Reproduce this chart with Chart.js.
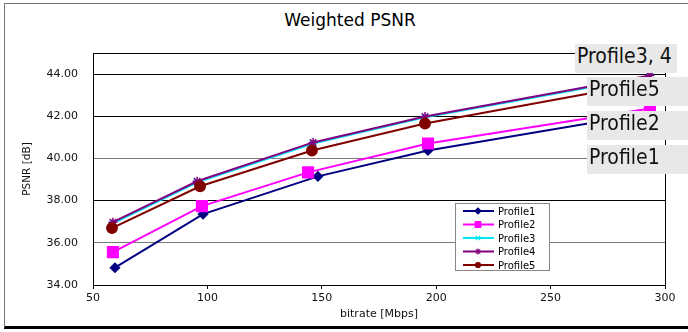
<!DOCTYPE html>
<html>
<head>
<meta charset="utf-8">
<script src="https://cdn.jsdelivr.net/npm/chart.js@4/dist/chart.umd.min.js"></script>
<style>
  body { margin: 0; background: #fff; }
  #wrap { position: relative; width: 688px; height: 332px; overflow: hidden; }
  #frame { position: absolute; left: 4px; top: 3px; width: 720px; height: 322px;
           border-left: 1px solid #777; border-top: 1px solid #777; border-bottom: 3px solid #000; }
  #title { position: absolute; left: 0; width: 700px; top: 10px; text-align: center;
           font: 17px "DejaVu Sans", sans-serif; color: #000; }
  canvas { position: absolute; left: 0; top: 0; }
  .tag { position: absolute; background: #e8e8e8; color: #111; height: 29px; line-height: 29px;
         font: 21px "Liberation Sans Narrow", "DejaVu Sans Condensed", "Open Sans", sans-serif; padding-left: 2px; }
</style>
</head>
<body>
<div id="wrap">
  <div id="frame"></div>
  <div id="title">Weighted PSNR</div>
  <canvas id="psnr-chart" width="688" height="332"></canvas>
  <div class="tag" style="left:575px; top:44px; width:100px;">Profile3, 4</div>
  <div class="tag" style="left:587px; top:77px; width:101px;">Profile5</div>
  <div class="tag" style="left:587px; top:111px; width:101px;">Profile2</div>
  <div class="tag" style="left:587px; top:145px; width:101px;">Profile1</div>
</div>
<script>
// data
const profileNames = ['Profile1', 'Profile2', 'Profile3', 'Profile4', 'Profile5'];
const profile1Bitrate = [59.6, 98.1, 148.3, 196.4, 293.5];
const profile1Psnr    = [34.82, 37.36, 39.15, 40.38, 42.15];
const profile2Bitrate = [58.7, 97.6, 144.0, 196.4, 293.4];
const profile2Psnr    = [35.56, 37.74, 39.34, 40.71, 42.37];
const profile3Bitrate = [58.7, 95.5, 146.2, 195.1, 293.4];
const profile3Psnr    = [36.92, 38.87, 40.71, 41.95, 43.89];
const profile4Bitrate = [58.7, 95.5, 146.2, 195.1, 293.4];
const profile4Psnr    = [36.98, 38.92, 40.76, 41.99, 43.93];
const profile5Bitrate = [58.3, 96.8, 145.7, 195.1, 293.0];
const profile5Psnr    = [36.70, 38.68, 40.38, 41.66, 43.60];
const xTicks = [50, 100, 150, 200, 250, 300];
const yTicks = [34, 36, 38, 40, 42, 44];

const toPoints = (xs, ys) => xs.map((x, i) => ({ x: x, y: ys[i] }));

const styles = [
  { color: '#000080', pointStyle: 'rectRot', radius: 4.5, legendRadius: 3, order: 4 },
  { color: '#ff00ff', pointStyle: 'rect', radius: 7.5, legendRadius: 4, order: 3 },
  { color: '#00e8f0', pointStyle: 'crossRot', radius: 4.5, legendRadius: 3, order: 2 },
  { color: '#800080', pointStyle: 'star', radius: 4.5, legendRadius: 3, order: 1 },
  { color: '#800000', pointStyle: 'circle', radius: 5.2, legendRadius: 2.5, order: 0 }
];
const series = [
  toPoints(profile1Bitrate, profile1Psnr),
  toPoints(profile2Bitrate, profile2Psnr),
  toPoints(profile3Bitrate, profile3Psnr),
  toPoints(profile4Bitrate, profile4Psnr),
  toPoints(profile5Bitrate, profile5Psnr)
];

// plot border + in-plot legend
const boxAndLegend = {
  id: 'boxAndLegend',
  beforeDatasetsDraw(chart) {
    const a = chart.chartArea, ctx = chart.ctx;
    ctx.save();
    ctx.strokeStyle = '#000';
    ctx.lineWidth = 1;
    ctx.strokeRect(Math.round(a.left) + 0.5, Math.round(a.top) + 0.5, Math.round(a.right - a.left), Math.round(a.bottom - a.top));
    ctx.restore();
  },
  afterDatasetsDraw(chart) {
    const ctx = chart.ctx;
    const bx = 455, by = 203, bw = 94, bh = 67;
    ctx.save();
    ctx.fillStyle = '#fff';
    ctx.fillRect(bx, by, bw, bh);
    ctx.strokeStyle = '#888';
    ctx.lineWidth = 1;
    ctx.strokeRect(bx + 0.5, by + 0.5, bw, bh);
    ctx.font = '10px "DejaVu Sans", sans-serif';
    ctx.textBaseline = 'middle';
    profileNames.forEach((name, i) => {
      const st = styles[i];
      const y = by + 8 + i * 13.5;
      ctx.strokeStyle = st.color;
      ctx.lineWidth = 2;
      ctx.beginPath();
      ctx.moveTo(463, y);
      ctx.lineTo(494, y);
      ctx.stroke();
      ctx.fillStyle = st.color;
      ctx.lineWidth = 1.2;
      Chart.helpers.drawPoint(ctx, { pointStyle: st.pointStyle, radius: st.legendRadius, rotation: 0, borderWidth: 1.2 }, 478, y);
      ctx.fillStyle = '#000';
      ctx.fillText(name, 498, y + 1);
    });
    ctx.restore();
  }
};

new Chart(document.getElementById('psnr-chart'), {
  type: 'line',
  data: {
    datasets: series.map((pts, i) => ({
      label: profileNames[i],
      data: pts,
      borderColor: styles[i].color,
      backgroundColor: styles[i].color,
      pointBorderColor: styles[i].color,
      pointBackgroundColor: styles[i].color,
      pointStyle: styles[i].pointStyle,
      pointRadius: styles[i].radius,
      pointBorderWidth: 1.5,
      borderWidth: 2,
      tension: 0,
      order: styles[i].order
    }))
  },
  options: {
    responsive: false,
    animation: false,
    devicePixelRatio: 1,
    layout: { padding: { left: 0, right: 23, top: 53, bottom: 0 } },
    plugins: { legend: { display: false }, tooltip: { enabled: false }, title: { display: false } },
    scales: {
      x: {
        type: 'linear', min: 50, max: 300,
        afterBuildTicks: s => { s.ticks = xTicks.map(v => ({ value: v })); },
        afterFit: s => { s.height = 47; },
        grid: { display: true, drawOnChartArea: false, drawTicks: true, tickLength: 4, color: '#000' },
        border: { display: false },
        ticks: { color: '#111', font: { family: 'DejaVu Sans', size: 11 }, padding: 3, maxRotation: 0 },
        title: { display: true, text: 'bitrate [Mbps]', color: '#111', font: { family: 'DejaVu Sans', size: 11 }, padding: { top: 0, bottom: 11 } }
      },
      y: {
        min: 34, max: 45,
        afterBuildTicks: s => { s.ticks = yTicks.map(v => ({ value: v })); },
        afterFit: s => { s.width = 93; },
        grid: { drawTicks: false, color: ctx => (ctx.tick && (ctx.tick.value === 36 || ctx.tick.value === 40)) ? '#7a7a7a' : '#000', lineWidth: 1 },
        border: { display: false },
        ticks: { color: '#111', font: { family: 'DejaVu Sans', size: 11 }, padding: 15, callback: v => Number(v).toFixed(2) },
        title: { display: true, text: 'PSNR [dB]', color: '#111', font: { family: 'DejaVu Sans', size: 10.5 }, padding: { top: 21, bottom: 0 } }
      }
    }
  },
  plugins: [boxAndLegend]
});
</script>
</body>
</html>
